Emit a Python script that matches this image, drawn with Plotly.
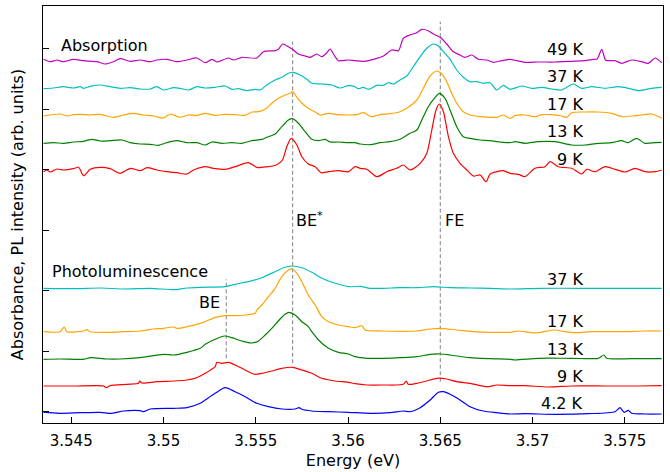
import plotly.graph_objects as go

# ---------------- data (energy in eV, stacked signal in arb. units) ----------------
abs_49K_E = [3.54350, 3.54386, 3.54423, 3.54458, 3.54512, 3.54567, 3.54639, 3.54684, 3.54729, 3.54765,
             3.54820, 3.54874, 3.54928, 3.54964, 3.55018, 3.55073, 3.55127, 3.55181, 3.55226, 3.55262,
             3.55289, 3.55352, 3.55379, 3.55425, 3.55506, 3.55542, 3.55605, 3.55623, 3.55645, 3.55677,
             3.55699, 3.55731, 3.55768, 3.55795, 3.55831, 3.55858, 3.55885, 3.55903, 3.55930, 3.55948,
             3.56002, 3.56038, 3.56083, 3.56138, 3.56192, 3.56237, 3.56273, 3.56300, 3.56336, 3.56373,
             3.56400, 3.56435, 3.56463, 3.56499, 3.56535, 3.56571, 3.56607, 3.56634, 3.56671, 3.56706,
             3.56752, 3.56788, 3.56833, 3.56878, 3.56959, 3.57031, 3.57122, 3.57212, 3.57284, 3.57329,
             3.57350, 3.57375, 3.57395, 3.57411, 3.57447, 3.57483, 3.57537, 3.57591, 3.57627, 3.57664, 3.57700]
abs_49K_I = [363.7, 361.3, 363.0, 361.3, 363.7, 362.3, 361.3, 359.0, 361.3, 364.3,
             361.7, 363.0, 361.3, 363.0, 363.7, 361.3, 363.0, 365.0, 360.3, 363.7,
             361.0, 365.0, 363.0, 365.7, 365.0, 371.3, 372.3, 373.7, 379.0, 376.3,
             373.7, 369.0, 367.0, 365.7, 369.0, 366.3, 370.3, 374.0, 366.3, 362.3,
             363.0, 362.3, 361.7, 363.7, 367.0, 373.0, 372.3, 384.7, 388.0, 390.3,
             393.7, 392.3, 389.0, 385.7, 379.0, 371.3, 368.0, 365.7, 368.0, 363.7,
             363.0, 360.7, 362.3, 363.7, 360.7, 361.0, 361.0, 361.7, 362.3, 363.7,
             364.0, 373.7, 363.0, 362.3, 362.3, 359.7, 363.0, 361.3, 359.7, 365.0, 360.3]

abs_37K_E = [3.54350, 3.54404, 3.54458, 3.54512, 3.54549, 3.54567, 3.54603, 3.54657, 3.54711, 3.54765,
             3.54820, 3.54874, 3.54928, 3.54964, 3.55000, 3.55054, 3.55090, 3.55135, 3.55181, 3.55226,
             3.55280, 3.55334, 3.55371, 3.55406, 3.55452, 3.55497, 3.55524, 3.55560, 3.55605, 3.55641,
             3.55677, 3.55704, 3.55740, 3.55777, 3.55804, 3.55858, 3.55912, 3.55957, 3.56002, 3.56038,
             3.56056, 3.56083, 3.56110, 3.56156, 3.56192, 3.56219, 3.56246, 3.56282, 3.56318, 3.56354,
             3.56391, 3.56427, 3.56463, 3.56490, 3.56517, 3.56553, 3.56589, 3.56625, 3.56661, 3.56698,
             3.56733, 3.56770, 3.56806, 3.56842, 3.56878, 3.56941, 3.56996, 3.57050, 3.57104, 3.57158,
             3.57221, 3.57266, 3.57321, 3.57393, 3.57465, 3.57519, 3.57573, 3.57646, 3.57700]
abs_37K_I = [334.3, 335.0, 336.3, 335.0, 336.3, 334.7, 336.7, 338.0, 336.3, 334.7,
             335.3, 334.0, 334.0, 336.3, 333.0, 335.3, 334.7, 333.0, 336.3, 335.0,
             335.7, 337.0, 333.7, 334.3, 332.3, 333.7, 333.0, 338.0, 343.0, 345.7,
             349.7, 350.7, 348.0, 343.7, 339.7, 339.0, 338.0, 335.0, 337.3, 336.3,
             334.3, 335.7, 333.7, 337.7, 337.7, 340.3, 339.0, 343.0, 347.0, 356.3,
             366.3, 374.7, 379.0, 377.0, 371.3, 363.7, 353.0, 345.7, 341.3, 341.3,
             339.7, 340.3, 333.0, 337.7, 333.7, 337.0, 334.7, 335.7, 334.0, 333.0,
             339.0, 334.7, 336.3, 334.7, 336.3, 334.7, 332.3, 334.7, 335.7]

abs_17K_E = [3.54350, 3.54386, 3.54440, 3.54477, 3.54512, 3.54549, 3.54603, 3.54657, 3.54729, 3.54783,
             3.54837, 3.54892, 3.54946, 3.55000, 3.55036, 3.55090, 3.55135, 3.55181, 3.55226, 3.55280,
             3.55334, 3.55388, 3.55443, 3.55479, 3.55515, 3.55551, 3.55587, 3.55623, 3.55659, 3.55686,
             3.55699, 3.55723, 3.55750, 3.55785, 3.55822, 3.55849, 3.55894, 3.55948, 3.56002, 3.56048,
             3.56083, 3.56129, 3.56174, 3.56228, 3.56282, 3.56327, 3.56373, 3.56408, 3.56445, 3.56481,
             3.56508, 3.56535, 3.56562, 3.56589, 3.56625, 3.56661, 3.56716, 3.56770, 3.56806, 3.56842,
             3.56878, 3.56905, 3.56959, 3.57013, 3.57050, 3.57104, 3.57158, 3.57185, 3.57212, 3.57284,
             3.57356, 3.57429, 3.57483, 3.57537, 3.57591, 3.57646, 3.57700]
abs_17K_I = [307.0, 308.0, 309.0, 307.0, 308.3, 308.7, 308.0, 308.7, 305.7, 308.0,
             309.7, 308.0, 307.0, 305.0, 309.0, 305.7, 308.0, 307.7, 309.7, 307.7,
             308.7, 308.3, 307.7, 311.0, 311.3, 313.7, 319.7, 324.7, 328.0, 329.7,
             331.3, 325.7, 319.7, 314.7, 311.0, 308.0, 309.7, 308.3, 308.0, 308.3,
             310.3, 306.3, 308.3, 309.3, 311.3, 315.7, 323.0, 334.7, 347.0, 352.0,
             349.0, 341.3, 329.7, 319.7, 311.3, 308.0, 306.3, 305.7, 305.7, 308.0,
             304.7, 307.3, 308.0, 306.3, 308.3, 308.3, 307.0, 305.7, 310.3, 311.0,
             311.0, 309.7, 306.3, 307.0, 308.0, 309.0, 304.7]

abs_13K_E = [3.54350, 3.54404, 3.54458, 3.54512, 3.54567, 3.54612, 3.54657, 3.54711, 3.54775, 3.54820,
             3.54874, 3.54928, 3.54973, 3.55018, 3.55073, 3.55127, 3.55181, 3.55226, 3.55262, 3.55316,
             3.55371, 3.55425, 3.55479, 3.55533, 3.55560, 3.55605, 3.55641, 3.55677, 3.55699, 3.55731,
             3.55768, 3.55804, 3.55840, 3.55876, 3.55903, 3.55948, 3.56002, 3.56038, 3.56066, 3.56120,
             3.56174, 3.56228, 3.56282, 3.56336, 3.56373, 3.56400, 3.56435, 3.56472, 3.56495, 3.56526,
             3.56553, 3.56589, 3.56625, 3.56661, 3.56716, 3.56770, 3.56824, 3.56878, 3.56905, 3.56959,
             3.57031, 3.57122, 3.57212, 3.57284, 3.57356, 3.57429, 3.57483, 3.57519, 3.57564, 3.57609,
             3.57664, 3.57700]
abs_13K_I = [279.7, 280.3, 279.7, 281.0, 281.7, 283.7, 282.0, 282.3, 283.0, 280.3,
             279.0, 278.7, 277.7, 280.3, 282.3, 280.3, 280.3, 278.0, 281.0, 279.7,
             280.3, 279.7, 282.3, 283.7, 285.7, 289.0, 296.3, 303.0, 304.3, 299.7,
             291.3, 283.7, 282.3, 283.7, 281.0, 281.0, 280.3, 280.3, 279.0, 278.3,
             280.3, 281.3, 283.7, 289.7, 293.0, 303.0, 316.3, 325.7, 329.7, 324.7,
             313.0, 296.3, 286.3, 284.7, 283.0, 282.3, 281.0, 280.3, 281.3, 279.7,
             281.3, 281.3, 278.0, 278.0, 279.7, 280.3, 282.3, 280.3, 284.7, 279.7,
             280.3, 280.7]

abs_9K_E = [3.54350, 3.54368, 3.54386, 3.54423, 3.54458, 3.54512, 3.54540, 3.54567, 3.54603, 3.54657,
            3.54711, 3.54765, 3.54820, 3.54874, 3.54910, 3.54964, 3.55018, 3.55073, 3.55127, 3.55163,
            3.55199, 3.55226, 3.55280, 3.55334, 3.55388, 3.55460, 3.55506, 3.55569, 3.55614, 3.55645,
            3.55668, 3.55692, 3.55723, 3.55750, 3.55785, 3.55822, 3.55854, 3.55894, 3.55948, 3.56002,
            3.56038, 3.56066, 3.56102, 3.56156, 3.56210, 3.56264, 3.56300, 3.56336, 3.56391, 3.56427,
            3.56454, 3.56477, 3.56495, 3.56517, 3.56544, 3.56571, 3.56607, 3.56644, 3.56679, 3.56716,
            3.56748, 3.56770, 3.56806, 3.56842, 3.56878, 3.56923, 3.56959, 3.57013, 3.57068, 3.57095,
            3.57140, 3.57212, 3.57266, 3.57294, 3.57339, 3.57393, 3.57447, 3.57501, 3.57555, 3.57609,
            3.57664, 3.57700]
abs_9K_I = [251.3, 253.0, 251.0, 254.0, 253.0, 254.3, 255.7, 247.3, 253.7, 255.7,
            254.3, 249.7, 254.7, 252.3, 255.3, 253.0, 251.3, 250.3, 249.0, 253.0,
            255.3, 256.3, 254.3, 253.7, 256.3, 260.3, 255.7, 256.3, 258.3, 263.0,
            276.3, 284.7, 278.0, 266.3, 259.0, 256.3, 250.3, 251.3, 252.3, 251.3,
            256.3, 254.7, 253.7, 246.3, 251.3, 254.7, 258.0, 253.0, 259.7, 269.7,
            293.0, 313.0, 319.0, 311.3, 286.3, 269.7, 259.7, 253.0, 247.0, 248.0,
            241.3, 249.0, 251.3, 252.3, 249.7, 248.7, 246.3, 254.7, 256.3, 261.3,
            256.3, 254.7, 249.0, 253.7, 251.3, 256.3, 253.7, 251.0, 254.7, 251.3,
            251.3, 253.0]

pl_37K_E = [3.54350, 3.54512, 3.54666, 3.54783, 3.54928, 3.55063, 3.55127, 3.55199, 3.55334, 3.55388,
            3.55460, 3.55533, 3.55605, 3.55650, 3.55696, 3.55750, 3.55804, 3.55867, 3.55930, 3.56002,
            3.56066, 3.56120, 3.56192, 3.56282, 3.56373, 3.56463, 3.56553, 3.56661, 3.56770, 3.56878,
            3.57041, 3.57257, 3.57474, 3.57700]
pl_37K_I = [134.7, 134.3, 135.0, 134.0, 134.7, 133.3, 135.0, 135.7, 136.3, 138.7,
            141.3, 145.3, 151.3, 155.3, 157.0, 155.3, 150.7, 144.0, 139.7, 136.3,
            136.7, 134.7, 134.7, 135.3, 135.3, 136.3, 135.3, 135.0, 134.7, 134.0,
            134.7, 134.7, 134.7, 134.7]

pl_17K_E = [3.54350, 3.54440, 3.54462, 3.54477, 3.54567, 3.54585, 3.54603, 3.54693, 3.54783, 3.54874,
            3.54946, 3.55000, 3.55054, 3.55073, 3.55127, 3.55199, 3.55226, 3.55280, 3.55334, 3.55388,
            3.55443, 3.55497, 3.55506, 3.55533, 3.55569, 3.55605, 3.55641, 3.55677, 3.55699, 3.55723,
            3.55750, 3.55785, 3.55822, 3.55858, 3.55894, 3.55948, 3.56002, 3.56038, 3.56075, 3.56093,
            3.56192, 3.56300, 3.56373, 3.56445, 3.56499, 3.56589, 3.56679, 3.56770, 3.56878, 3.56923,
            3.57013, 3.57122, 3.57176, 3.57239, 3.57321, 3.57483, 3.57609, 3.57700]
pl_17K_I = [91.3, 91.3, 96.0, 91.3, 92.0, 93.3, 91.3, 90.7, 91.3, 92.0,
            94.0, 94.7, 96.0, 94.7, 96.3, 99.7, 101.3, 105.7, 107.3, 107.3,
            108.0, 109.7, 113.0, 118.0, 126.3, 134.7, 146.3, 153.0, 154.0, 149.7,
            141.3, 128.0, 118.0, 106.3, 101.3, 98.0, 96.3, 95.3, 97.3, 93.0,
            92.0, 91.7, 92.0, 94.0, 94.7, 93.0, 91.3, 90.7, 90.7, 92.0,
            90.0, 93.0, 91.3, 90.3, 91.3, 91.3, 92.0, 92.0]

pl_13K_E = [3.54350, 3.54440, 3.54567, 3.54603, 3.54693, 3.54765, 3.54874, 3.55000, 3.55054, 3.55127,
            3.55199, 3.55226, 3.55280, 3.55330, 3.55371, 3.55425, 3.55479, 3.55515, 3.55551, 3.55587,
            3.55632, 3.55659, 3.55681, 3.55713, 3.55750, 3.55785, 3.55804, 3.55840, 3.55894, 3.55948,
            3.56002, 3.56038, 3.56102, 3.56192, 3.56282, 3.56373, 3.56445, 3.56499, 3.56553, 3.56661,
            3.56770, 3.56878, 3.56905, 3.57031, 3.57212, 3.57356, 3.57387, 3.57402, 3.57537, 3.57700]
pl_13K_I = [63.7, 64.0, 63.7, 65.3, 64.0, 64.0, 65.3, 68.7, 68.0, 70.7,
            74.7, 78.7, 83.7, 87.0, 85.3, 82.0, 80.0, 82.0, 88.0, 94.7,
            104.0, 108.7, 110.7, 108.0, 101.3, 96.3, 91.3, 83.0, 74.7, 70.7,
            69.0, 66.3, 64.7, 64.7, 65.3, 66.3, 68.7, 69.0, 68.0, 65.3,
            64.3, 63.7, 63.0, 64.7, 64.7, 64.7, 68.0, 64.7, 64.3, 64.3]

pl_9K_E = [3.54350, 3.54512, 3.54675, 3.54690, 3.54711, 3.54802, 3.54865, 3.54870, 3.54883, 3.54964,
           3.55054, 3.55127, 3.55172, 3.55226, 3.55280, 3.55289, 3.55316, 3.55352, 3.55388, 3.55425,
           3.55460, 3.55497, 3.55533, 3.55587, 3.55641, 3.55699, 3.55750, 3.55804, 3.55858, 3.55930,
           3.56002, 3.56038, 3.56102, 3.56192, 3.56300, 3.56315, 3.56327, 3.56373, 3.56427, 3.56481,
           3.56535, 3.56589, 3.56661, 3.56752, 3.56806, 3.56878, 3.56959, 3.57086, 3.57212, 3.57393,
           3.57573, 3.57700]
pl_9K_I = [37.0, 37.0, 37.0, 35.3, 37.3, 38.7, 39.7, 42.0, 40.0, 41.3,
           42.0, 43.0, 44.7, 49.7, 56.3, 60.7, 59.7, 60.7, 58.0, 54.7,
           51.3, 48.7, 49.7, 52.0, 54.7, 55.7, 53.0, 49.7, 44.7, 42.0,
           40.7, 39.3, 38.0, 38.0, 38.7, 42.0, 38.7, 39.7, 42.0, 44.7,
           44.0, 41.3, 39.7, 36.3, 38.0, 37.3, 37.3, 36.0, 37.0, 37.0,
           37.0, 37.3]

pl_4K_E = [3.54350, 3.54359, 3.54440, 3.54549, 3.54657, 3.54720, 3.54783, 3.54874, 3.54892, 3.54928,
           3.55054, 3.55127, 3.55199, 3.55226, 3.55280, 3.55334, 3.55388, 3.55443, 3.55488, 3.55506,
           3.55569, 3.55641, 3.55713, 3.55735, 3.55750, 3.55804, 3.55894, 3.56002, 3.56120, 3.56228,
           3.56300, 3.56336, 3.56391, 3.56445, 3.56490, 3.56517, 3.56553, 3.56607, 3.56661, 3.56733,
           3.56806, 3.56878, 3.56959, 3.57122, 3.57302, 3.57447, 3.57474, 3.57497, 3.57519, 3.57537,
           3.57609, 3.57700]
pl_4K_I = [10.7, 10.7, 9.7, 10.3, 10.7, 9.7, 12.0, 12.3, 11.3, 14.0,
           14.7, 15.3, 19.7, 23.0, 29.7, 35.3, 31.3, 26.3, 21.3, 19.7,
           16.3, 14.0, 14.0, 15.3, 13.7, 12.0, 11.3, 10.7, 9.7, 10.3,
           12.0, 11.3, 15.3, 23.0, 30.7, 31.3, 28.7, 23.0, 16.3, 12.0,
           10.3, 9.0, 9.3, 8.7, 9.3, 11.3, 15.3, 10.7, 12.7, 9.7,
           9.0, 9.0]

# temperature labels
abs_labels = ["49 K", "37 K", "17 K", "13 K", "9 K"]
abs_label_y = [373.7, 346.3, 319.0, 292.0, 263.7]
pl_labels = ["37 K", "17 K", "13 K", "9 K", "4.2 K"]
pl_label_y = [143.7, 101.3, 73.7, 46.3, 19.7]
label_E = 3.57284

# marker lines (BE, BE*, FE)
marker_names = ["BE", "BE<sup>*</sup>", "FE"]
marker_E = [3.5534, 3.5570, 3.5650]
marker_bottom = [64.7, 59.7, 41.3]
marker_top = [143.7, 381.3, 401.3]

x_ticks = [3.545, 3.55, 3.555, 3.56, 3.565, 3.57, 3.575]
x_tick_text = ["3.545", "3.55", "3.555", "3.56", "3.565", "3.57", "3.575"]
y_ticks = [11.3, 71.8, 132.3, 192.8, 253.3, 313.8, 374.3]

# ---------------- figure ----------------
FONT = "DejaVu Sans"
fig = go.Figure()

for E, top, bot in zip(marker_E, marker_top, marker_bottom):
    fig.add_trace(go.Scatter(x=[E, E], y=[bot, top], mode="lines",
                             line=dict(color="#808080", width=1, dash="4px,2.5px"),
                             hoverinfo="skip", showlegend=False))

curves = [
    (abs_49K_E, abs_49K_I, "#bf00bf"),
    (abs_37K_E, abs_37K_I, "#00bfbf"),
    (abs_17K_E, abs_17K_I, "#ffa500"),
    (abs_13K_E, abs_13K_I, "#008000"),
    (abs_9K_E, abs_9K_I, "#ff0000"),
    (pl_37K_E, pl_37K_I, "#00bfbf"),
    (pl_17K_E, pl_17K_I, "#ffa500"),
    (pl_13K_E, pl_13K_I, "#008000"),
    (pl_9K_E, pl_9K_I, "#ff0000"),
    (pl_4K_E, pl_4K_I, "#0000ff"),
]
for E, I, c in curves:
    fig.add_trace(go.Scatter(x=E, y=I, mode="lines",
                             line=dict(color=c, width=1.2, shape="spline", smoothing=0.7),
                             showlegend=False))

ann = []
for t, y in zip(abs_labels + pl_labels, abs_label_y + pl_label_y):
    ann.append(dict(x=label_E, y=y, text=t, xanchor="right", yanchor="middle", showarrow=False,
                    font=dict(size=16, color="black", family=FONT)))
ann.append(dict(x=3.54435, y=378.0, text="Absorption", xanchor="left", yanchor="middle",
                showarrow=False, font=dict(size=16, color="black", family=FONT)))
ann.append(dict(x=3.54386, y=151.3, text="Photoluminescence", xanchor="left", yanchor="middle",
                showarrow=False, font=dict(size=16, color="black", family=FONT)))
ann.append(dict(x=3.55708, y=204.0, text=marker_names[1], xanchor="left", yanchor="middle",
                showarrow=False, font=dict(size=16, color="black", family=FONT)))
ann.append(dict(x=3.56513, y=203.0, text=marker_names[2], xanchor="left", yanchor="middle",
                showarrow=False, font=dict(size=16, color="black", family=FONT)))
ann.append(dict(x=3.55316, y=120.7, text=marker_names[0], xanchor="right", yanchor="middle",
                showarrow=False, font=dict(size=16, color="black", family=FONT)))

fig.update_layout(
    width=670, height=472,
    margin=dict(l=43, r=7, t=6, b=49, autoexpand=False),
    paper_bgcolor="white", plot_bgcolor="white",
    font=dict(family=FONT, size=15, color="black"),
    annotations=ann,
    xaxis=dict(range=[3.54347, 3.57707], tickvals=x_ticks, ticktext=x_tick_text,
               ticks="inside", ticklen=6, tickwidth=1, tickcolor="black",
               showline=True, linecolor="black", linewidth=1.2, mirror=True,
               showgrid=False, zeroline=False, tickfont=dict(size=15),
               ticklabelstandoff=4,
               title=dict(text="Energy (eV)", font=dict(size=16), standoff=5)),
    yaxis=dict(range=[0, 417], tickvals=y_ticks, showticklabels=False,
               ticks="inside", ticklen=6, tickwidth=1, tickcolor="black",
               showline=True, linecolor="black", linewidth=1.2, mirror=True,
               showgrid=False, zeroline=False,
               title=dict(text="Absorbance, PL intensity (arb. units)", font=dict(size=16), standoff=14)),
)

fig.write_html("out.html", config={"displayModeBar": False},
               post_script="document.body.style.margin='0';document.body.style.padding='0';")
